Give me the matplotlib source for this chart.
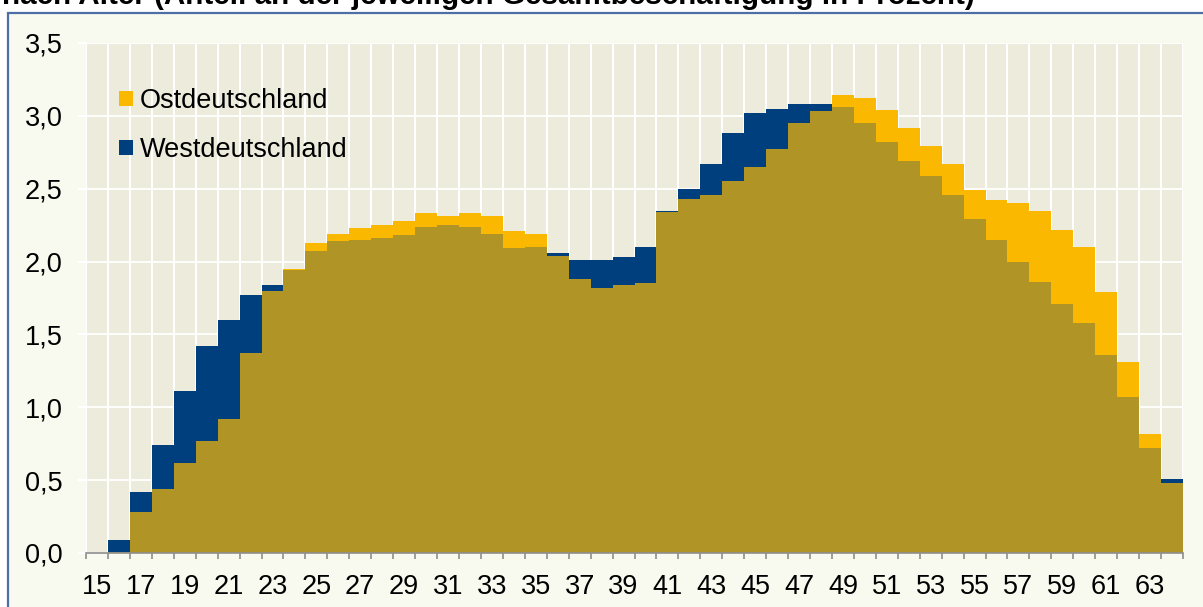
import numpy as np
import matplotlib
matplotlib.use("Agg")
import matplotlib.pyplot as plt
from matplotlib.patches import Patch, Rectangle
from matplotlib.ticker import FuncFormatter, MultipleLocator

plt.rcParams['font.family'] = ['Liberation Sans', 'DejaVu Sans']

ages = list(range(15, 65))
ost = [0.00, 0.01, 0.28, 0.44, 0.62, 0.77, 0.92, 1.37, 1.80, 1.95,
       2.13, 2.19, 2.23, 2.25, 2.28, 2.33, 2.31, 2.33, 2.31, 2.21,
       2.19, 2.04, 1.88, 1.82, 1.84, 1.85, 2.34, 2.43, 2.46, 2.55,
       2.65, 2.77, 2.95, 3.03, 3.14, 3.12, 3.04, 2.92, 2.79, 2.67,
       2.49, 2.42, 2.40, 2.35, 2.22, 2.10, 1.79, 1.31, 0.82, 0.48]
west = [0.00, 0.09, 0.42, 0.74, 1.11, 1.42, 1.60, 1.77, 1.84, 1.94,
        2.07, 2.14, 2.15, 2.16, 2.18, 2.24, 2.25, 2.24, 2.19, 2.09,
        2.10, 2.06, 2.01, 2.01, 2.03, 2.10, 2.35, 2.50, 2.67, 2.88,
        3.02, 3.05, 3.08, 3.08, 3.06, 2.95, 2.82, 2.69, 2.59, 2.46,
        2.29, 2.15, 2.00, 1.86, 1.71, 1.58, 1.36, 1.07, 0.72, 0.51]
labels = ["Ostdeutschland", "Westdeutschland"]
title = "Beschäftigte nach Alter (Anteil an der jeweiligen Gesamtbeschäftigung in Prozent)"

C_OST = "#FBB800"
C_WEST = "#003F7D"
C_BOTH = "#B09526"
C_PLOT = "#EDEBDB"
C_FRAME = "#F9FAEF"

W, H = 1203, 607
fig = plt.figure(figsize=(W / 100, H / 100), dpi=100, facecolor="white")

frame = Rectangle((8 / W, -0.05), 1.1, 1 - 13 / H + 0.05, transform=fig.transFigure,
                  facecolor=C_FRAME, edgecolor="#4F6EA7", linewidth=1.6, zorder=0)
fig.patches.append(frame)

fig.text(975 / W, 1 - 4 / H, title, ha="right", va="baseline",
         fontsize=21.3, fontweight="bold", color="black", zorder=3)

ax = fig.add_axes([86 / W, 1 - 553 / H, (1183 - 86) / W, (553 - 43) / H])
ax.set_zorder(2)
ax.set_facecolor(C_PLOT)

x = np.array(ages)
e = np.array(ost)
w = np.array(west)
ax.bar(x, w, width=1.0, color=C_WEST, linewidth=0, zorder=2)
ax.bar(x, e, width=1.0, color=C_OST, linewidth=0, zorder=2)
ax.bar(x, np.minimum(e, w), width=1.0, color=C_BOTH, linewidth=0, zorder=3)

ax.set_xlim(ages[0] - 0.5, ages[-1] + 0.5)
ax.set_ylim(0, 3.5)

ax.set_xticks(ages[::2])
ax.set_xticks(np.arange(ages[0] - 0.5, ages[-1] + 1.0, 1.0), minor=True)
ax.tick_params(axis="x", which="major", length=0, pad=15, labelsize=19.5)
ax.tick_params(axis="x", which="minor", length=4, width=1.2, color="#8E8E8E", direction="out")
ax.yaxis.set_major_locator(MultipleLocator(0.5))
ax.yaxis.set_major_formatter(FuncFormatter(lambda v, p: f"{v:.1f}".replace(".", ",")))
ax.tick_params(axis="y", which="major", length=6, width=1.5, color="white", pad=11, labelsize=19.5)

ax.grid(True, axis="x", which="minor", color="white", linewidth=1.5, zorder=1)
ax.grid(True, axis="y", which="major", color="white", linewidth=1.3, zorder=1)
ax.grid(False, axis="x", which="major")
ax.set_axisbelow(True)

for s in ["top", "right", "left"]:
    ax.spines[s].set_visible(False)
ax.spines["bottom"].set_color("#8E8E8E")
ax.spines["bottom"].set_linewidth(1.2)
ax.spines["bottom"].set_zorder(5)

handles = [Patch(facecolor=C_OST, edgecolor="none"), Patch(facecolor=C_WEST, edgecolor="none")]
ax.legend(handles, labels, loc="upper left", bbox_to_anchor=(33 / (1183 - 86), 1 - 45 / 510),
          frameon=False, fontsize=19.5, handlelength=0.52, handleheight=0.52,
          handletextpad=0.25, labelspacing=0.85, borderaxespad=0, borderpad=0)

fig.savefig("out.png", dpi=100, facecolor="white")
